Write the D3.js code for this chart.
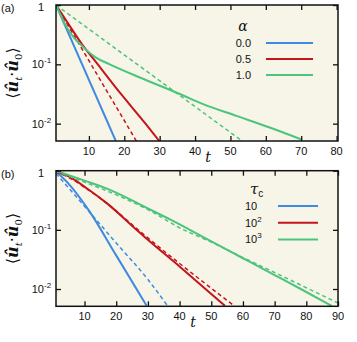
<!DOCTYPE html>
<html>
<head>
<meta charset="utf-8">
<style>
  body { margin: 0; background: #fff; }
  text { font-family: "Liberation Sans", Arial, sans-serif; fill: #111; }
  .serif { font-family: "DejaVu Serif", "Liberation Serif", serif; }
</style>
</head>
<body>
<script src="https://cdn.jsdelivr.net/npm/d3@7/dist/d3.min.js"></script>
<script>
// ---- data ----
const xTicksA = [10, 20, 30, 40, 50, 60, 70, 80];
const xTicksB = [10, 20, 30, 40, 50, 60, 70, 80, 90];
const yTicks = [1, 0.1, 0.01];

const alphaLabels = ["0.0", "0.5", "1.0"];
const tauBases = ["10", "10", "10"];
const tauExps = ["", "2", "3"];

// panel (a): alpha = 0.0, 0.5, 1.0  (solid = simulation, dashed = theory)
const aBlueSolid  = [[0.7, 1], [17.6, 0.0051]];
const aRedSolid   = [[0.7, 1], [4, 0.5], [8, 0.22], [12.5, 0.1], [19, 0.032], [26, 0.01], [30, 0.005]];
const aRedDash    = [[0.7, 1], [23.5, 0.005]];
const aGreenSolid = [[0.7, 1], [2, 0.68], [3.2, 0.48], [4.6, 0.35], [6, 0.27], [8.4, 0.195], [12, 0.13], [15.9, 0.1],
                     [24.4, 0.06], [35.7, 0.0316], [42.3, 0.0213], [51.7, 0.0135], [61.1, 0.0086], [70.1, 0.0054]];
const aGreenDash  = [[0.7, 1], [53.5, 0.005]];

// panel (b): tau_c = 10, 10^2, 10^3
const bBlueSolid  = [[1, 0.97], [5, 0.6], [11.3, 0.216], [20, 0.037], [29.6, 0.0052]];
const bBlueDash   = [[1, 0.9], [10, 0.25], [20, 0.06], [30, 0.0145], [36.2, 0.0052]];
const bRedSolid   = [[1, 0.96], [5, 0.8], [10.8, 0.5], [17.1, 0.28], [25.6, 0.11], [30, 0.068], [40, 0.024], [49, 0.0092], [54.3, 0.0052]];
const bRedDash    = [[1, 0.95], [5, 0.77], [10.8, 0.49], [17.1, 0.28], [25.6, 0.115], [30, 0.073], [40, 0.027], [50, 0.0103], [57.4, 0.0051]];
const bGreenSolid = [[1, 1], [10, 0.68], [18.2, 0.47], [30, 0.23], [37.3, 0.147], [50, 0.0636], [60, 0.0331], [70, 0.0172], [80, 0.0089], [88, 0.0052]];
const bGreenDash  = [[1, 0.97], [10, 0.64], [18.2, 0.43], [30, 0.22], [40.5, 0.105], [50, 0.062], [60, 0.034], [70, 0.019], [80, 0.0105], [90, 0.0058]];

const blue = "#3f8ae0", red = "#c4141c", green = "#4cc47c";
const bg = "#f7f5e8";

const W = 357, H = 342;
const svg = d3.select("body").append("svg")
  .attr("width", W).attr("height", H)
  .style("display", "block");

function drawPanel(cfg) {
  const x = d3.scaleLinear().domain(cfg.xDomain).range([56, 338]);
  const y = d3.scaleLog().domain([0.0051, 1]).range([cfg.bottom, cfg.top]);
  const g = svg.append("g");

  g.append("rect")
    .attr("x", 56).attr("y", cfg.top)
    .attr("width", 282).attr("height", cfg.bottom - cfg.top)
    .attr("fill", bg);

  const clipId = "clip" + cfg.name;
  svg.append("clipPath").attr("id", clipId)
    .append("rect")
    .attr("x", 56).attr("y", cfg.top)
    .attr("width", 282).attr("height", cfg.bottom - cfg.top);

  const line = d3.line()
    .x(d => x(d[0]))
    .y(d => y(d[1]))
    .curve(d3.curveMonotoneX);

  const lines = g.append("g").attr("clip-path", "url(#" + clipId + ")");
  cfg.series.forEach(s => {
    lines.append("path")
      .datum(s.data)
      .attr("d", line)
      .attr("fill", "none")
      .attr("stroke", s.color)
      .attr("stroke-width", s.dash ? 1.5 : 2)
      .attr("stroke-dasharray", s.dash ? "4,3" : null);
  });

  // axes with inward ticks on all four sides
  const tk = 5;
  g.append("g").attr("transform", "translate(0," + cfg.bottom + ")")
    .call(d3.axisBottom(x).tickValues(cfg.xTicks).tickSizeInner(-tk).tickSizeOuter(0).tickFormat(""))
    .call(a => a.select(".domain").remove());
  g.append("g").attr("transform", "translate(0," + cfg.top + ")")
    .call(d3.axisTop(x).tickValues(cfg.xTicks).tickSizeInner(-tk).tickSizeOuter(0).tickFormat(""))
    .call(a => a.select(".domain").remove());
  g.append("g").attr("transform", "translate(56,0)")
    .call(d3.axisLeft(y).tickValues(yTicks).tickSizeInner(-tk).tickSizeOuter(0).tickFormat(""))
    .call(a => a.select(".domain").remove());
  g.append("g").attr("transform", "translate(338,0)")
    .call(d3.axisRight(y).tickValues(yTicks).tickSizeInner(-tk).tickSizeOuter(0).tickFormat(""))
    .call(a => a.select(".domain").remove());
  g.selectAll(".tick line").attr("stroke", "#111").attr("stroke-width", 1.3);

  g.append("rect")
    .attr("x", 56).attr("y", cfg.top)
    .attr("width", 282).attr("height", cfg.bottom - cfg.top)
    .attr("fill", "none").attr("stroke", "#111").attr("stroke-width", 1.5);

  // x tick labels
  g.selectAll(".xl").data(cfg.xTicks).enter().append("text")
    .attr("x", d => x(d)).attr("y", cfg.bottom + 14)
    .attr("text-anchor", "middle")
    .attr("font-size", 11)
    .text(d => d);

  // y tick labels
  yTicks.forEach(v => {
    if (v === 1) {
      g.append("text").attr("x", 44).attr("y", y(v) + 6)
        .attr("font-size", 11).attr("text-anchor", "end").text("1");
    } else {
      const e = Math.round(Math.log10(v));
      g.append("text").attr("x", 44).attr("y", y(v) + 4)
        .attr("font-size", 11).attr("text-anchor", "end").text("10");
      g.append("text").attr("x", 44).attr("y", y(v) - 1)
        .attr("font-size", 8).text("-" + Math.abs(e));
    }
  });

  // x axis label
  g.append("text").attr("class", "serif")
    .attr("x", cfg.tx).attr("y", cfg.ty)
    .attr("font-size", 14).attr("font-style", "italic")
    .attr("text-anchor", "middle")
    .text("t");

  // y axis label
  const yl = g.append("text").attr("class", "serif")
    .attr("transform", "translate(" + 18 + "," + ((cfg.top + cfg.bottom) / 2) + ") rotate(-90)")
    .attr("text-anchor", "middle")
    .attr("font-size", 16);
  yl.append("tspan").text("\u27E8");
  yl.append("tspan").attr("font-weight", "bold").attr("font-style", "italic").text("\u00FB");
  yl.append("tspan").attr("font-style", "italic").attr("font-size", 10).attr("dy", 4).text("t");
  yl.append("tspan").attr("dy", -4).text("\u00B7");
  yl.append("tspan").attr("font-weight", "bold").attr("font-style", "italic").text("\u00FB");
  yl.append("tspan").attr("font-size", 10).attr("dy", 4).text("0");
  yl.append("tspan").attr("dy", -4).text("\u27E9");

  // panel label
  g.append("text").attr("x", 1).attr("y", cfg.top + 7)
    .attr("font-size", 11).text(cfg.label);

  // legend
  const L = cfg.legend;
  cfg.series.filter(s => !s.dash).forEach((s, i) => {
    const yy = L.y0 + i * L.dy;
    g.append("line")
      .attr("x1", L.x1).attr("x2", L.x2)
      .attr("y1", yy).attr("y2", yy)
      .attr("stroke", s.color).attr("stroke-width", 2);
    const lt = g.append("text")
      .attr("x", L.tx).attr("y", yy + 4)
      .attr("font-size", 11)
      .attr("text-anchor", L.anchor);
    lt.append("tspan").text(L.labels[i]);
    if (L.exps && L.exps[i]) {
      lt.append("tspan").attr("font-size", 8).attr("dy", -5).text(L.exps[i]);
    }
  });
  L.title(g);
}

drawPanel({
  name: "a", label: "(a)", top: 5, bottom: 141, xDomain: [0.7, 80.4], xTicks: xTicksA,
  tx: 208, ty: 162,
  series: [
    { data: aBlueSolid, color: blue },
    { data: aRedSolid, color: red },
    { data: aRedDash, color: red, dash: true },
    { data: aGreenSolid, color: green },
    { data: aGreenDash, color: green, dash: true }
  ],
  legend: {
    x1: 266, x2: 313, y0: 43, dy: 16, tx: 251, anchor: "end", labels: alphaLabels,
    title: g => g.append("text").attr("class", "serif")
      .attr("x", 243).attr("y", 31).attr("font-size", 14).attr("font-style", "italic")
      .attr("text-anchor", "middle").text("\u03B1")
  }
});

drawPanel({
  name: "b", label: "(b)", top: 170.7, bottom: 306.3, xDomain: [1, 90], xTicks: xTicksB,
  tx: 193, ty: 327,
  series: [
    { data: bBlueSolid, color: blue },
    { data: bBlueDash, color: blue, dash: true },
    { data: bRedSolid, color: red },
    { data: bRedDash, color: red, dash: true },
    { data: bGreenSolid, color: green },
    { data: bGreenDash, color: green, dash: true }
  ],
  legend: {
    x1: 278, x2: 318, y0: 206, dy: 16.7, tx: 245, anchor: "start", labels: tauBases, exps: tauExps,
    title: g => {
      const t = g.append("text").attr("x", 250).attr("y", 194).attr("font-size", 15);
      t.append("tspan").attr("class", "serif").attr("font-style", "italic").text("\u03C4");
      t.append("tspan").attr("font-size", 10).attr("dy", 3).text("c");
    }
  }
});
</script>
</body>
</html>
